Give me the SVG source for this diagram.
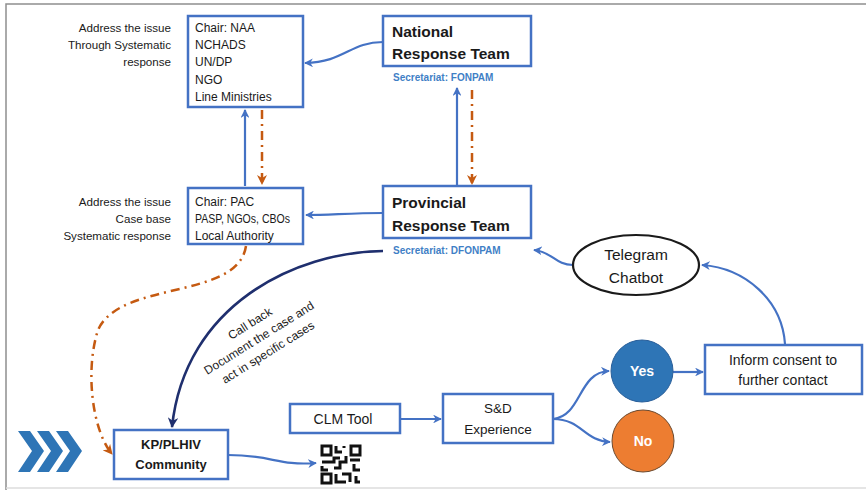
<svg xmlns="http://www.w3.org/2000/svg" width="866" height="494" viewBox="0 0 866 494">
<style>
text{font-family:"Liberation Sans",Arial,sans-serif;fill:#1a1a1a}
.box{fill:#fff;stroke:#4472c4;stroke-width:2.5}
.t{font-size:12px}
.r{font-size:11.6px;text-anchor:end}
.m{font-size:14px;text-anchor:middle}
.big{font-size:15.5px;font-weight:bold}
.sec{font-size:10px;font-weight:bold;fill:#3f7fc6}
.c{text-anchor:middle}
.bl{fill:none;stroke:#4472c4;stroke-width:2.2;marker-end:url(#ab)}
.or{fill:none;stroke:#c55a11;stroke-width:2.5;stroke-dasharray:9 5 2 5;marker-end:url(#ao)}
.nv{fill:none;stroke:#1f2f6e;stroke-width:2.6;marker-end:url(#an)}
</style>
<defs>
<marker id="ab" viewBox="0 0 10 10" refX="9" refY="5" markerWidth="4" markerHeight="4" orient="auto" markerUnits="strokeWidth"><path d="M0,0L10,5L0,10L3,5z" fill="#4472c4"/></marker>
<marker id="ao" viewBox="0 0 10 10" refX="9" refY="5" markerWidth="4" markerHeight="4" orient="auto" markerUnits="strokeWidth"><path d="M0,0L10,5L0,10L3,5z" fill="#c55a11"/></marker>
<marker id="an" viewBox="0 0 10 10" refX="9" refY="5" markerWidth="4" markerHeight="4" orient="auto" markerUnits="strokeWidth"><path d="M0,0L10,5L0,10L3,5z" fill="#1f2f6e"/></marker>
</defs>
<rect x="0" y="0" width="866" height="494" fill="#fff"/>
<path d="M6,490 V4 H866" fill="none" stroke="#8f8f8f" stroke-width="1.5"/>
<path d="M6,488 H866" fill="none" stroke="#dcdcdc" stroke-width="1.5"/>

<g id="connectors">
<path class="bl" d="M383,42 C350,42 345,62 305,63"/>
<path class="bl" d="M245,186 V110"/>
<path class="or" d="M262,110 V184"/>
<path class="bl" d="M457,185 V88"/>
<path class="or" d="M472,90 V184"/>
<path class="bl" d="M383,213 C350,213 330,215 306,215"/>
<path class="nv" d="M383,251 C295,252 185,305 172,427"/>
<path class="or" d="M246,246 C238,300 120,280 98,330 C85,370 92,430 112,454"/>
<path class="bl" d="M573,265 C555,265 553,252 534,250"/>
<path class="bl" d="M785,344 C782,300 745,268 702,265"/>
<path class="bl" d="M673,372 H703"/>
<path class="bl" d="M553,419 C582,416 578,372 609,371"/>
<path class="bl" d="M553,419 C582,419 584,441 610,442"/>
<path class="bl" d="M400,419 H441"/>
<path class="bl" d="M228,455 C272,455 278,466 316,463"/>
</g>

<g id="national-labels">
<text class="r" x="171" y="32">Address the issue</text>
<text class="r" x="171" y="49">Through Systematic</text>
<text class="r" x="171" y="66">response</text>
</g>
<g id="national-members">
<rect class="box" x="188" y="16" width="115" height="91"/>
<text class="t" x="195" y="32">Chair: NAA</text>
<text class="t" x="195" y="49">NCHADS</text>
<text class="t" x="195" y="66">UN/DP</text>
<text class="t" x="195" y="84">NGO</text>
<text class="t" x="195" y="101">Line Ministries</text>
</g>
<g id="national-team">
<rect class="box" x="383" y="16" width="148" height="50"/>
<text class="big" x="392" y="37">National</text>
<text class="big" x="392" y="59">Response Team</text>
<text class="sec" x="393" y="81">Secretariat: FONPAM</text>
</g>

<g id="provincial-labels">
<text class="r" x="171" y="206">Address the issue</text>
<text class="r" x="171" y="223">Case base</text>
<text class="r" x="171" y="240">Systematic response</text>
</g>
<g id="provincial-members">
<rect class="box" x="188" y="188" width="115" height="56"/>
<text class="t" x="195" y="206">Chair: PAC</text>
<text class="t" x="195" y="223" textLength="95" lengthAdjust="spacingAndGlyphs">PASP, NGOs, CBOs</text>
<text class="t" x="195" y="240">Local Authority</text>
</g>
<g id="provincial-team">
<rect class="box" x="383" y="186" width="148" height="52"/>
<text class="big" x="392" y="208">Provincial</text>
<text class="big" x="392" y="231">Response Team</text>
<text class="sec" x="393" y="254">Secretariat: DFONPAM</text>
</g>

<g id="callback-label" transform="translate(259,338) rotate(-32)">
<text class="t c" x="0" y="-13">Call back</text>
<text class="t c" x="0" y="4">Document the case and</text>
<text class="t c" x="0" y="21">act in specific cases</text>
</g>

<g id="telegram">
<ellipse cx="636" cy="265" rx="63" ry="30" fill="#fff" stroke="#1a1a1a" stroke-width="2.2"/>
<text class="c" x="636" y="260" font-size="15.5">Telegram</text>
<text class="c" x="636" y="283" font-size="15.5">Chatbot</text>
</g>
<g id="inform">
<rect class="box" x="705" y="345" width="157" height="49"/>
<text class="m" x="783" y="365">Inform consent to</text>
<text class="m" x="783" y="385">further contact</text>
</g>
<g id="yes">
<circle cx="642" cy="371" r="31" fill="#2e75b6" stroke="#2a5f9a" stroke-width="1"/>
<text class="c" x="642" y="376" font-size="14" font-weight="bold" style="fill:#fff">Yes</text>
</g>
<g id="no">
<circle cx="643" cy="441" r="31" fill="#ed7d31" stroke="#6b4a30" stroke-width="1"/>
<text class="c" x="643" y="446" font-size="14" font-weight="bold" style="fill:#fff">No</text>
</g>
<g id="sd">
<rect class="box" x="443" y="394" width="110" height="49"/>
<text class="c" x="498" y="413" font-size="13.5">S&amp;D</text>
<text class="c" x="498" y="434" font-size="13.5">Experience</text>
</g>
<g id="clm">
<rect class="box" x="290" y="404" width="110" height="29"/>
<text class="m" x="343" y="424">CLM Tool</text>
</g>
<g id="community">
<rect class="box" x="114" y="430" width="114" height="49"/>
<text class="c" x="171" y="449" font-size="13" font-weight="bold">KP/PLHIV</text>
<text class="c" x="171" y="469" font-size="13" font-weight="bold">Community</text>
</g>
<g id="qr" fill="none" stroke="#111" stroke-width="3">
<rect x="322" y="446" width="9" height="9"/>
<rect x="351" y="446" width="9" height="9"/>
<rect x="322" y="474" width="9" height="9"/>
<path d="M336,446 V452 H342 M344,446 V448 M322,462 H334 V458 H340 M322,466 V470 H328 M334,468 H340 V462 H346 V456 M350,460 H360 M354,464 V470 H360 M336,474 V482 H346 M342,474 H350 V482 M356,476 V482 H360"/>
</g>
<g id="chevrons" fill="#2e75b6">
<path d="M18,431 H30 L44,451 L30,472 H18 L32,451 Z"/>
<path d="M37,431 H49 L63,451 L49,472 H37 L51,451 Z"/>
<path d="M56,431 H68 L82,451 L68,472 H56 L70,451 Z"/>
</g>
</svg>
